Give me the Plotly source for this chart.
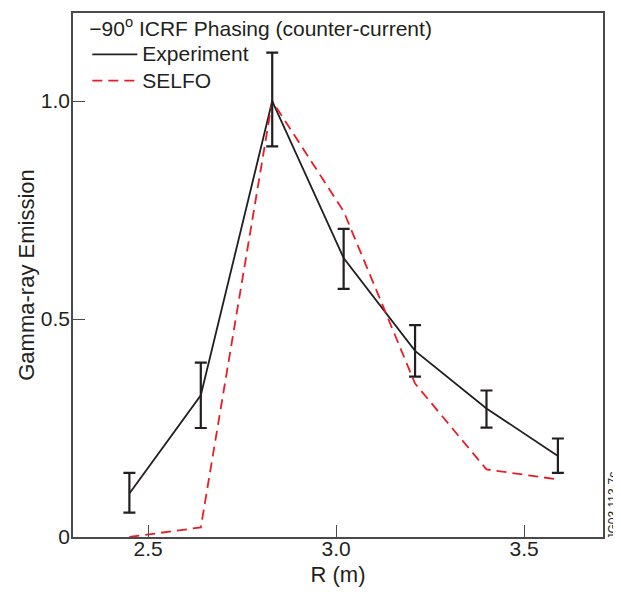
import plotly.graph_objects as go

# ── Data ─────────────────────────────────────────────────────────────
R_M = [2.45, 2.64, 2.83, 3.02, 3.21, 3.40, 3.59]
EXPERIMENT = [0.10, 0.325, 1.0, 0.64, 0.427, 0.295, 0.186]
EXP_ERR_UP = [0.047, 0.075, 0.111, 0.067, 0.059, 0.041, 0.040]
EXP_ERR_DOWN = [0.044, 0.075, 0.104, 0.071, 0.059, 0.044, 0.039]
SELFO = [0.0, 0.022, 1.0, 0.747, 0.352, 0.155, 0.132]

X_TICKS = [2.5, 3.0, 3.5]
X_TICK_TEXT = ["2.5", "3.0", "3.5"]
Y_TICKS = [0, 0.5, 1.0]
Y_TICK_TEXT = ["0", "0.5", "1.0"]

FONT = "Liberation Sans, Arial, Helvetica, sans-serif"
BLACK = "#231f20"
RED = "#ec1c24"


def big(label):
    # legend rows are spaced from the legend font size, names drawn larger
    return f"<span style='font-size:21px'>{label}</span>"


fig = go.Figure()

fig.add_trace(go.Scatter(
    x=R_M, y=EXPERIMENT, mode="lines", name=big("Experiment"),
    line=dict(color=BLACK, width=1.8),
))
fig.add_trace(go.Scatter(
    x=R_M, y=SELFO, mode="lines", name=big("SELFO"),
    line=dict(color=RED, width=1.8, dash="10px,6px"),
))
# error bars kept separate so the legend shows only the line
fig.add_trace(go.Scatter(
    x=R_M, y=EXPERIMENT, mode="markers", showlegend=False,
    marker=dict(size=1, color="rgba(0,0,0,0)"),
    error_y=dict(type="data", symmetric=False, array=EXP_ERR_UP,
                 arrayminus=EXP_ERR_DOWN, color=BLACK, thickness=2.2, width=6),
    hoverinfo="skip",
))

axis_common = dict(
    showgrid=False, zeroline=False, showline=True, mirror=True,
    linecolor="#4a4a4a", linewidth=1.5,
    ticks="inside", ticklen=12, tickwidth=1.2, tickcolor="#4a4a4a",
    tickfont=dict(family=FONT, size=21, color=BLACK),
)

# page body adds ~8px offset, so the figure is drawn 8px smaller
fig.update_layout(
    width=613, height=584,
    margin=dict(l=65, r=18, t=1, b=55),
    paper_bgcolor="white", plot_bgcolor="white",
    font=dict(family=FONT, size=20, color=BLACK),
    xaxis=dict(range=[2.30, 3.71], tickvals=X_TICKS, ticktext=X_TICK_TEXT,
               ticklabelstandoff=-8,
               title=dict(text="R (m)", standoff=8,
                          font=dict(family=FONT, size=22, color=BLACK)),
               **axis_common),
    yaxis=dict(range=[0, 1.202], tickvals=Y_TICKS, ticktext=Y_TICK_TEXT,
               ticklabelstandoff=-3,
               title=dict(text="Gamma-ray Emission", standoff=0,
                          font=dict(family=FONT, size=22, color=BLACK)),
               **axis_common),
    legend=dict(
        x=0.027, y=1.008, xanchor="left", yanchor="top",
        bgcolor="rgba(0,0,0,0)", itemwidth=45,
        font=dict(family=FONT, size=18, color=BLACK),
        title=dict(text="\u221290<sup>o</sup> ICRF Phasing (counter-current)",
                   side="top", font=dict(family=FONT, size=21, color=BLACK)),
        tracegroupgap=0,
    ),
    showlegend=True,
)

fig.add_annotation(
    text="JG03.113-7c", xref="paper", yref="paper",
    x=1.0, y=0.06, xanchor="left", yanchor="middle", xshift=1,
    textangle=-90, showarrow=False,
    font=dict(family=FONT, size=12, color=BLACK),
)

fig.write_html("out.html")
